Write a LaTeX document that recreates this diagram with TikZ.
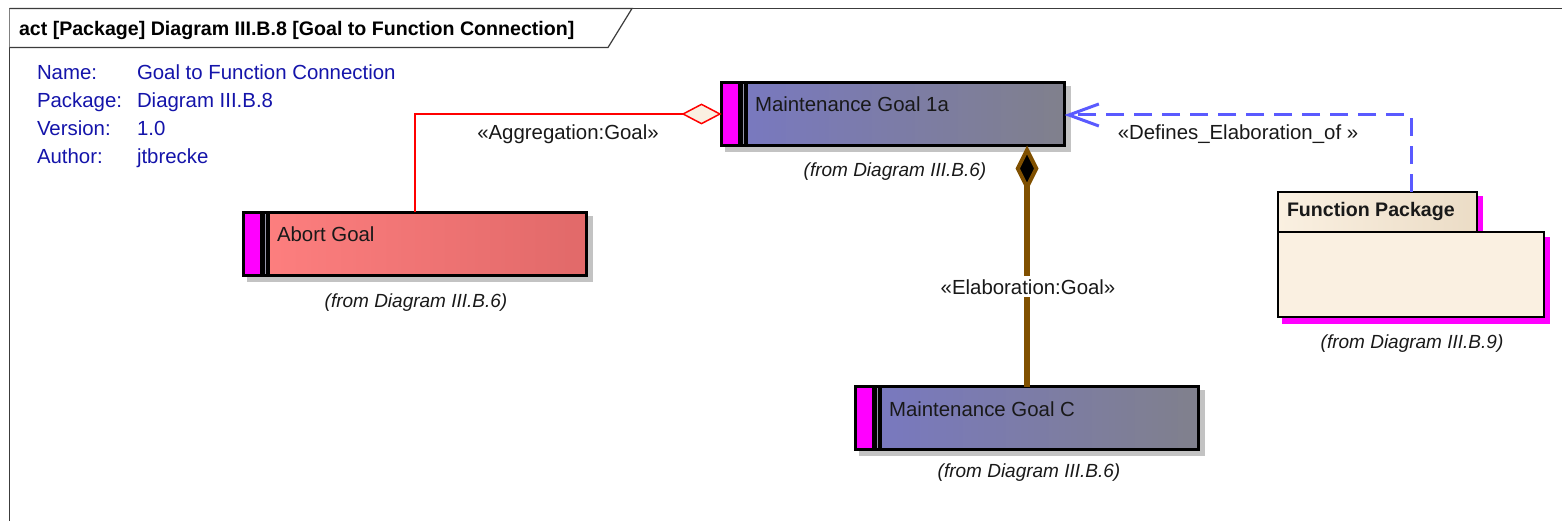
\documentclass[tikz,border=0pt]{standalone}
\usepackage{fontspec}
\setmainfont{Liberation Sans}
\usetikzlibrary{arrows.meta,shapes.geometric}
\definecolor{infoblue}{RGB}{20,20,170}
\definecolor{magbar}{RGB}{255,0,255}
\definecolor{goalL}{RGB}{120,120,195}
\definecolor{goalR}{RGB}{128,128,140}
\definecolor{abortL}{RGB}{255,128,128}
\definecolor{abortR}{RGB}{225,105,105}
\definecolor{pkgfill}{RGB}{250,240,225}
\definecolor{pkgR}{RGB}{235,220,198}
\definecolor{brownc}{RGB}{128,80,0}
\definecolor{depblue}{RGB}{90,90,255}
\definecolor{shadowgray}{RGB}{195,195,195}
\definecolor{gapgray}{RGB}{150,150,170}
\definecolor{framegray}{RGB}{60,60,60}
\newcommand\labelfont{\fontsize{20.4}{24}\selectfont}
\newcommand\goalbox[8]{%
  \fill[shadowgray] ({#2+5},{#3+5}) rectangle ({#4+5},{#5+5});
  \node[name=#1, draw=black, line width=3pt, left color=#7, right color=#8,
        minimum width={#4-#2-3}, minimum height={#5-#3-3}, inner sep=0pt]
        at ({(#2+#4)/2},{(#3+#5)/2}) {};
  \fill[magbar] ({#2+3},{#3+3}) rectangle ({#2+17.5},{#5-3});
  \fill[black] ({#2+17.5},{#3+1.5}) rectangle ({#2+28},{#5-1.5});
  \fill[gapgray] ({#2+22.6},{#3+3}) rectangle ({#2+23.6},{#5-3});
  \node[name=#1text, anchor=base west, font=\labelfont, text=black!90] at ({#2+35},{#3+31}) {#6};
}
\tikzset{
  infotext/.style={anchor=base west, font=\labelfont, text=infoblue},
  fromtext/.style={anchor=base, font=\fontsize{19}{23}\selectfont\itshape, text=black!90},
  stereo/.style={anchor=base, font=\labelfont, text=black!90},
  aggr/.style={draw=red, line width=1.5pt, -{Diamond[length=40pt 0, width=21pt 0, line width'=1.5pt, fill=pkgfill]}},
  comp/.style={draw=brownc, line width=6pt, -{Diamond[length=46pt 0, width=23pt 0, line width'=4pt, fill=black]}},
  dep/.style={draw=depblue, line width=3pt, dash pattern=on 18pt off 10pt, -{Straight Barb[length=30pt 0, width=22pt 0, line width'=3pt]}},
}
\begin{document}
\begin{tikzpicture}[x=1pt,y=-1pt, every node/.style={inner sep=0pt, outer sep=0pt}]
\useasboundingbox[fill=white] (0,0) rectangle (1562,521);
% frame
\draw[framegray, line width=1.5pt] (9.5,521) -- (9.5,8.5) -- (1562,8.5);
\draw[framegray, line width=1.2pt, fill=white] (9.5,8.5) -- (632,8.5) -- (608,47.5) -- (9.5,47.5);
\node[name=title, anchor=base west, font=\fontsize{19.6}{23}\selectfont\bfseries] at (19,36) {act [Package] Diagram III.B.8 [Goal to Function Connection]};
% info
\node[name=i1, infotext] at (37,80) {Name:};
\node[name=i2, infotext] at (37,108) {Package:};
\node[name=i3, infotext] at (37,136) {Version:};
\node[name=i4, infotext] at (37,164) {Author:};
\node[name=v1, infotext] at (137,80) {Goal to Function Connection};
\node[name=v2, infotext] at (137,108) {Diagram III.B.8};
\node[name=v3, infotext] at (137,136) {1.0};
\node[name=v4, infotext] at (137,164) {jtbrecke};
% goal boxes
\goalbox{m1a}{720}{81}{1066}{147}{Maintenance Goal 1a}{goalL}{goalR}
\goalbox{abort}{242}{211}{588}{277}{Abort Goal}{abortL}{abortR}
\goalbox{mgc}{854}{385}{1200}{451}{Maintenance Goal C}{goalL}{goalR}
\node[name=f1, fromtext] at (895,177) {(from Diagram III.B.6)};
\node[name=f2, fromtext] at (416,307) {(from Diagram III.B.6)};
\node[name=f3, fromtext] at (1029,477) {(from Diagram III.B.6)};
% function package
\fill[magbar] (1282,196) rectangle (1483,237);
\fill[magbar] (1282,237) rectangle (1550,324);
\node[name=pkgbody, draw=black, line width=2pt, fill=pkgfill, minimum width=266, minimum height=85] at (1411,274.5) {};
\node[name=pkgtab, draw=black, line width=2pt, left color=pkgfill, right color=pkgR, minimum width=199, minimum height=40] at (1377.5,212) {};
\node[name=pkgtext, anchor=base west, font=\fontsize{19.6}{23}\selectfont\bfseries, text=black!90] at (1287,217) {Function Package};
\node[name=f4, fromtext] at (1412,348) {(from Diagram III.B.9)};
% connectors
\draw[aggr] (abort.north) |- (m1a.west);
\node[name=s1, stereo] at (568,140) {«Aggregation:Goal»};
\draw[comp] (mgc.north) -- (mgc.north |- m1a.south);
\node[name=s2, stereo, fill=white, inner xsep=2pt, inner ysep=3pt] at (1028,294) {«Elaboration:Goal»};
\draw[dep] ([xshift=33.5pt]pkgtab.north) |- ([yshift=-1pt]m1a.east);
\node[name=s3, stereo] at (1238,140) {«Defines\_Elaboration\_of »};
\end{tikzpicture}
\end{document}
